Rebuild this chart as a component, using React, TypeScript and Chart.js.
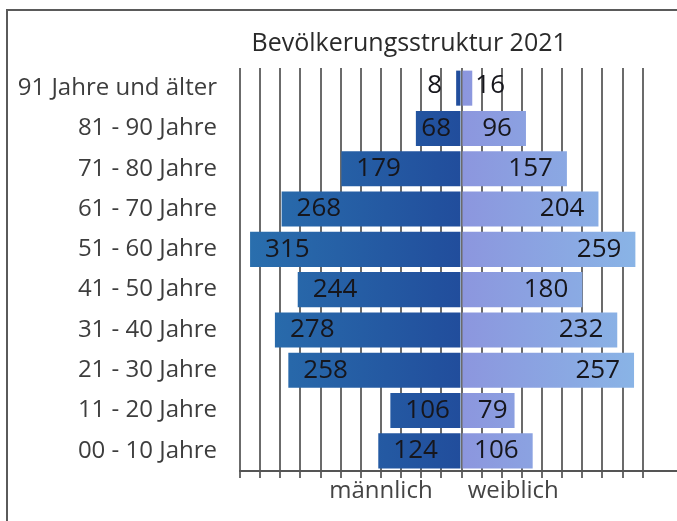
import React, { useEffect, useRef } from "react";
import { Chart, registerables } from "chart.js";

Chart.register(...registerables);

const chartTitle = "Bevölkerungsstruktur 2021";
const ageGroups = [
  "91 Jahre und älter",
  "81 - 90 Jahre",
  "71 - 80 Jahre",
  "61 - 70 Jahre",
  "51 - 60 Jahre",
  "41 - 50 Jahre",
  "31 - 40 Jahre",
  "21 - 30 Jahre",
  "11 - 20 Jahre",
  "00 - 10 Jahre",
];
const maleValues = [8, 68, 179, 268, 315, 244, 278, 258, 106, 124];
const femaleValues = [16, 96, 157, 204, 259, 180, 232, 257, 79, 106];
const sideLabels = ["männlich", "weiblich"];
const sideLabelValues = [-120, 77];
const titleValue = -78;
const axisMin = -330;
const axisMax = 321;
const gridStep = 30;

const FONT = "'Open Sans', 'Noto Sans', sans-serif";

const framePlugin = {
  id: "frame",
  beforeDraw(chart: any) {
    const { ctx } = chart;
    ctx.save();
    ctx.strokeStyle = "#5a5a5a";
    ctx.lineWidth = 2;
    ctx.beginPath();
    ctx.moveTo(7, 521);
    ctx.lineTo(7, 10);
    ctx.lineTo(677, 10);
    ctx.stroke();
    ctx.restore();
  },
};

const textPlugin = {
  id: "texts",
  afterDatasetsDraw(chart: any) {
    const { ctx, chartArea } = chart;
    const xs = chart.scales.x;
    ctx.save();
    // title
    ctx.fillStyle = "#2a2a2a";
    ctx.font = `25px ${FONT}`;
    ctx.textAlign = "center";
    ctx.textBaseline = "middle";
    ctx.fillText(chartTitle, xs.getPixelForValue(titleValue), chartArea.top - 24);
    // side labels
    ctx.fillStyle = "#444";
    ctx.font = `24px ${FONT}`;
    sideLabels.forEach((t, i) => {
      ctx.fillText(t, xs.getPixelForValue(sideLabelValues[i]), chartArea.bottom + 20);
    });
    // value labels
    ctx.font = `26px ${FONT}`;
    ctx.fillStyle = "#16161c";
    chart.data.datasets.forEach((ds: any, di: number) => {
      const meta = chart.getDatasetMeta(di);
      meta.data.forEach((el: any, i: number) => {
        const v = Math.abs(ds.data[i]);
        const left = Math.min(el.x, el.base);
        const right = Math.max(el.x, el.base);
        const w = right - left;
        const text = String(v);
        const y = el.y;
        if (di === 0) {
          if (w > 60) {
            ctx.textAlign = "left";
            ctx.fillText(text, left + 15, y);
          } else if (w > 30) {
            ctx.textAlign = "center";
            ctx.fillText(text, left + w / 2 - 2, y);
          } else {
            ctx.textAlign = "right";
            ctx.fillText(text, left - 14, y - 3);
          }
        } else {
          if (w > 30) {
            ctx.textAlign = "right";
            ctx.fillText(text, right - (w > 60 ? 14 : 7), y);
          } else {
            ctx.textAlign = "left";
            ctx.fillText(text, right + 3, y - 3);
          }
        }
      });
    });
    ctx.restore();
  },
};

function maleColor(c: any) {
  const chart = c.chart;
  const area = chart.chartArea;
  if (!area) return "#24539f";
  const xs = chart.scales.x;
  const g = chart.ctx.createLinearGradient(xs.getPixelForValue(axisMin), 0, xs.getPixelForValue(0), 0);
  g.addColorStop(0, "#2a70ae");
  g.addColorStop(1, "#214d9c");
  return g;
}

function femaleColor(c: any) {
  const chart = c.chart;
  const area = chart.chartArea;
  if (!area) return "#8aa8e2";
  const xs = chart.scales.x;
  const g = chart.ctx.createLinearGradient(xs.getPixelForValue(0), 0, xs.getPixelForValue(gridStep * 11), 0);
  g.addColorStop(0, "#8c96de");
  g.addColorStop(1, "#88bce8");
  return g;
}

export default function App() {
  const ref = useRef<HTMLCanvasElement | null>(null);
  useEffect(() => {
    if (!ref.current) return;
    const chart = new Chart(ref.current, {
      type: "bar",
      data: {
        labels: ageGroups,
        datasets: [
          {
            label: sideLabels[0],
            data: maleValues.map((v) => -v),
            backgroundColor: maleColor as any,
            borderWidth: 0,
            barPercentage: 0.87,
            categoryPercentage: 1,
          },
          {
            label: sideLabels[1],
            data: femaleValues,
            backgroundColor: femaleColor as any,
            borderWidth: 0,
            barPercentage: 0.87,
            categoryPercentage: 1,
          },
        ],
      },
      options: {
        indexAxis: "y",
        responsive: false,
        animation: false,
        layout: { padding: { left: 0, right: 0, top: 68, bottom: 43 } },
        plugins: {
          legend: { display: false },
          title: { display: false },
          tooltip: { enabled: false },
        },
        scales: {
          x: {
            stacked: true,
            min: axisMin,
            max: axisMax,
            ticks: { display: false, stepSize: gridStep },
            afterBuildTicks: (s: any) => {
              s.ticks = s.ticks.filter((t: any) => Math.abs(t.value % gridStep) < 1e-6);
            },
            grid: {
              color: "#6b6b6b",
              lineWidth: 2,
              drawTicks: true,
              tickLength: 7,
              tickColor: "#6b6b6b",
              tickWidth: 2,
            },
            border: { display: true, color: "#555", width: 2 },
          },
          y: {
            stacked: true,
            afterFit: (s: any) => {
              s.width = 240;
            },
            grid: { display: false },
            border: { display: false },
            ticks: {
              color: "#3d3d3d",
              font: { family: FONT, size: 24 },
              padding: 15,
            },
          },
        },
      },
      plugins: [framePlugin, textPlugin],
    });
    return () => chart.destroy();
  }, []);
  return (
    <div style={{ position: "absolute", left: 0, top: 0, width: 677, height: 521, background: "#fff" }}>
      <canvas ref={ref} width={677} height={521} style={{ display: "block" }} />
    </div>
  );
}
